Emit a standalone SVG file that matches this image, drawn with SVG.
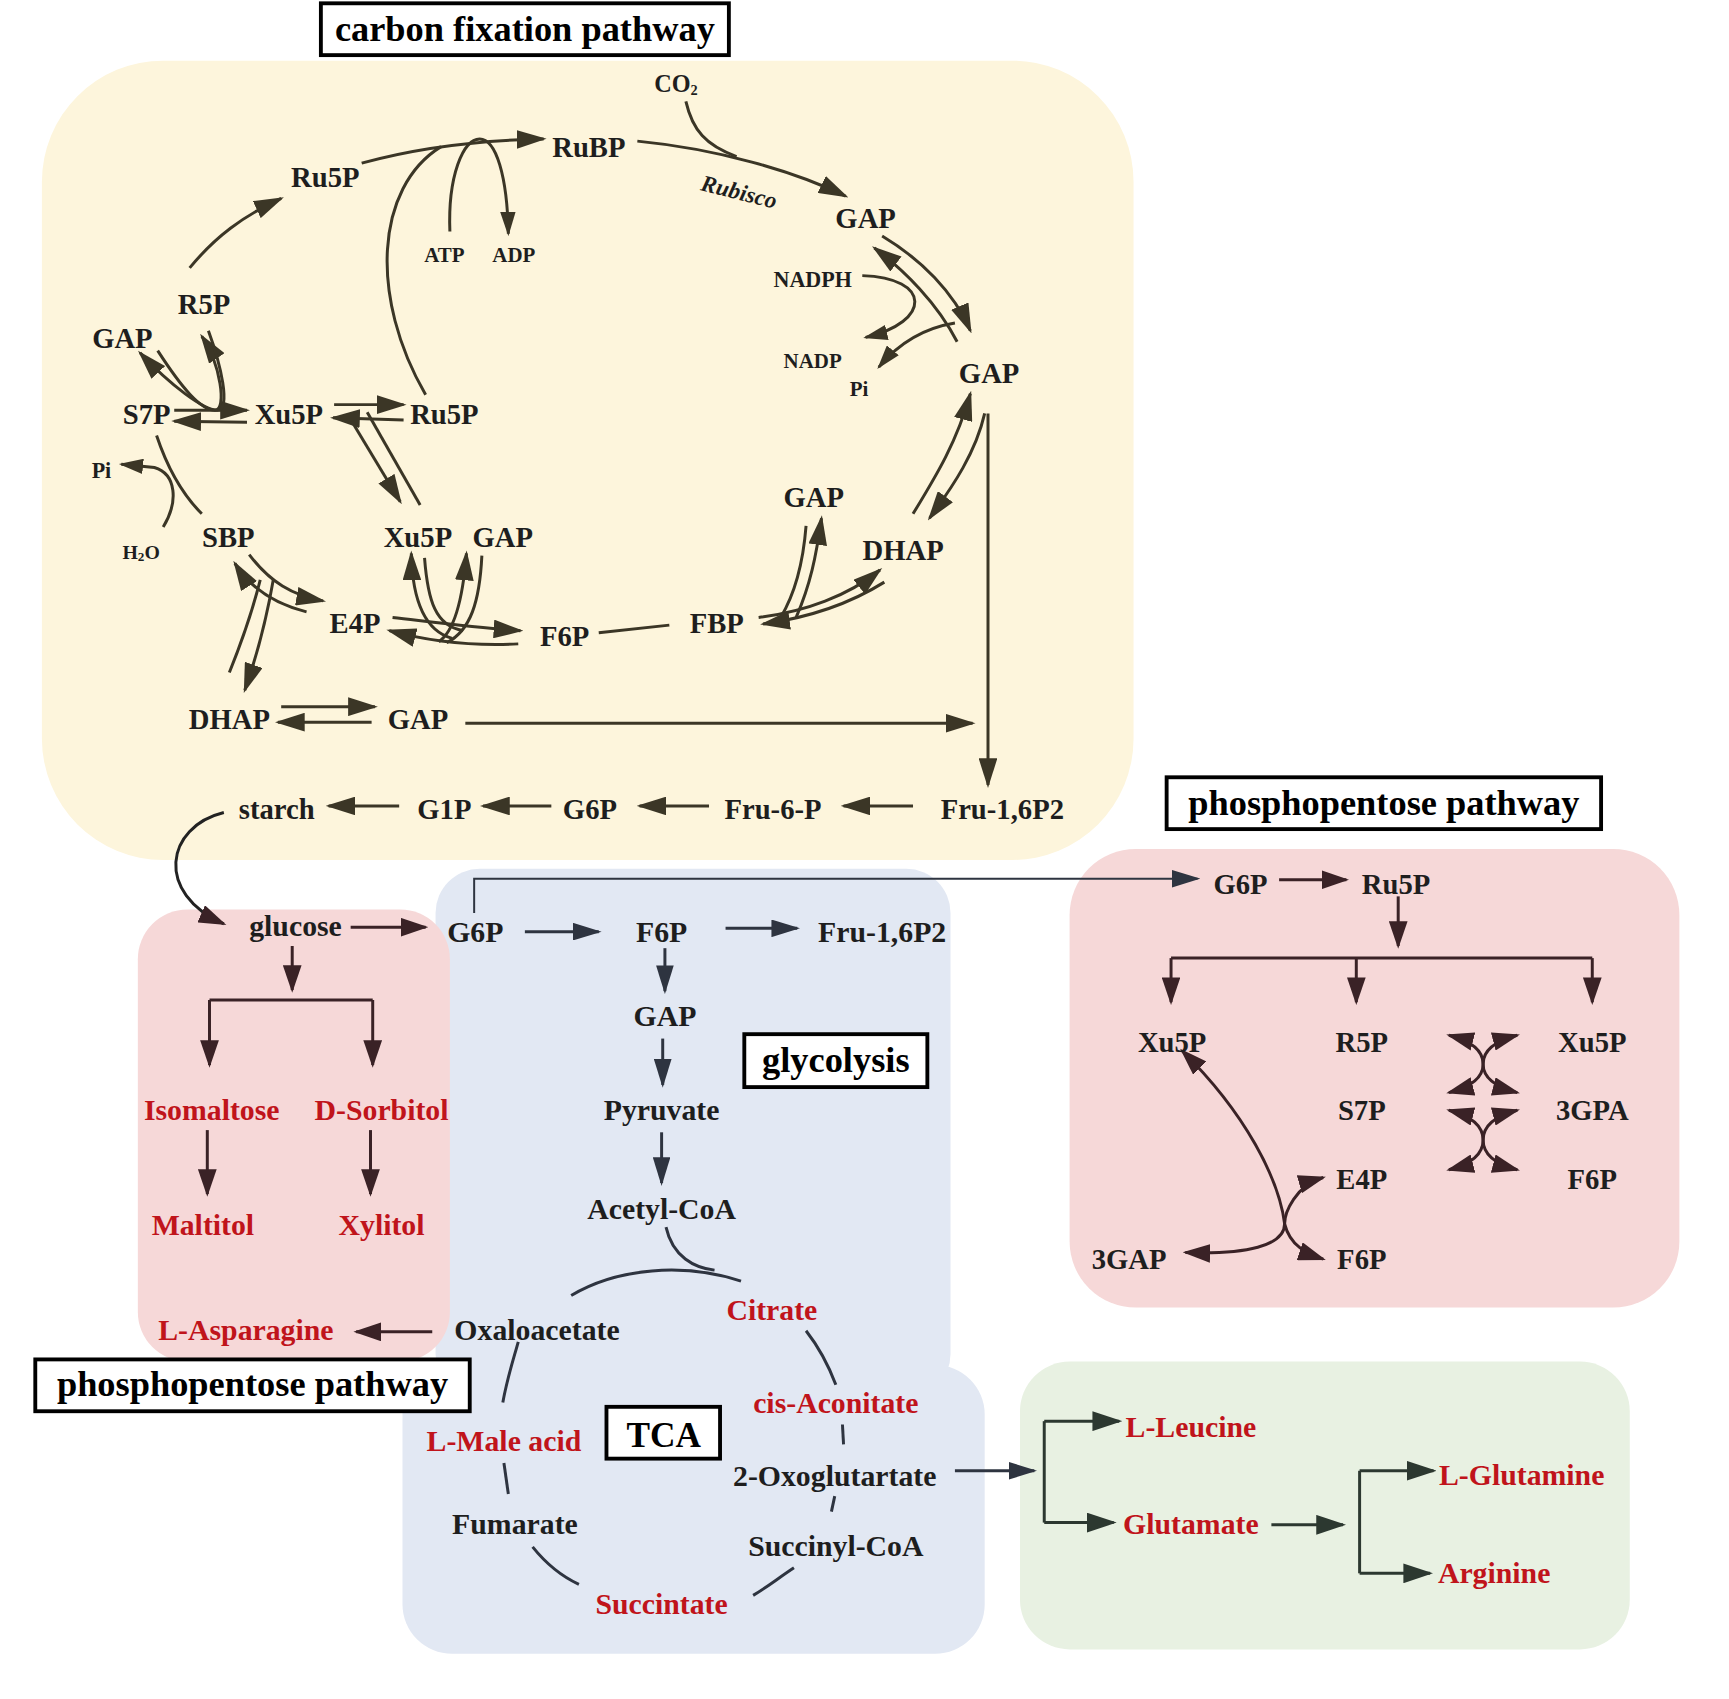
<svg xmlns="http://www.w3.org/2000/svg" width="1729" height="1699" viewBox="0 0 1729 1699">
<defs>
<style>
.t{font-family:"Liberation Serif","Times New Roman",serif;font-weight:bold;font-size:26px;text-anchor:middle;fill:#1e1e1e}
.l{font-size:27px}
.s{font-size:20px}
.r{fill:#c0141b}
.ttl{font-size:33px;fill:#000}
.box{fill:#fff;stroke:#000;stroke-width:3.5}
.c{fill:none;stroke:#3b3626;stroke-width:2.7}
.p{fill:none;stroke:#3a2226;stroke-width:2.7}
.b{fill:none;stroke:#2e3440;stroke-width:2.7}
.g{fill:none;stroke:#2c3830;stroke-width:2.7}
.ce{marker-end:url(#ac)}
.cs{marker-end:url(#acs)}
.pe{marker-end:url(#ap)}
.pb{marker-end:url(#ap);marker-start:url(#ap)}
.be{marker-end:url(#ab)}
.ge{marker-end:url(#ag)}
</style>
<marker id="ac" viewBox="0 0 10 10" preserveAspectRatio="none" refX="9" refY="5" markerWidth="27" markerHeight="17" markerUnits="userSpaceOnUse" orient="auto-start-reverse"><path d="M0,0 L10,5 L0,10 z" fill="#3b3626"/></marker>
<marker id="acs" viewBox="0 0 10 10" preserveAspectRatio="none" refX="9" refY="5" markerWidth="22" markerHeight="14" markerUnits="userSpaceOnUse" orient="auto-start-reverse"><path d="M0,0 L10,5 L0,10 z" fill="#3b3626"/></marker>
<marker id="ap" viewBox="0 0 10 10" preserveAspectRatio="none" refX="9" refY="5" markerWidth="25" markerHeight="17" markerUnits="userSpaceOnUse" orient="auto-start-reverse"><path d="M0,0 L10,5 L0,10 z" fill="#3a2226"/></marker>
<marker id="ab" viewBox="0 0 10 10" preserveAspectRatio="none" refX="9" refY="5" markerWidth="26" markerHeight="16" markerUnits="userSpaceOnUse" orient="auto-start-reverse"><path d="M0,0 L10,5 L0,10 z" fill="#2e3440"/></marker>
<marker id="ag" viewBox="0 0 10 10" preserveAspectRatio="none" refX="9" refY="5" markerWidth="27" markerHeight="18" markerUnits="userSpaceOnUse" orient="auto-start-reverse"><path d="M0,0 L10,5 L0,10 z" fill="#2c3830"/></marker>
</defs>
<rect width="1729" height="1699" fill="#fff"/>
<g transform="scale(1.10268,1.10253)">
<g id="backgrounds">
<rect x="38" y="55" width="990" height="725" rx="110" fill="#fdf5dc"/>
<rect x="395" y="788" width="467" height="480" rx="40" fill="#e2e8f3"/>
<rect x="365" y="1238" width="528" height="262" rx="45" fill="#e2e8f3"/>
<rect x="125" y="825" width="283" height="410" rx="45" fill="#f6d8d8"/>
<rect x="970" y="770" width="553" height="416" rx="60" fill="#f6d8d8"/>
<rect x="925" y="1235" width="553" height="261" rx="45" fill="#e8f1e2"/>
</g>

<g id="connectors">
<!-- carbon fixation -->
<path class="c ce" d="M328 148 Q400 128 493 126"/>
<path class="c" d="M386 358 C335 270 340 170 400 133"/>
<path class="c cs" d="M408 210 C406 160 420 126 435 126 C450 126 460 160 461 212"/>
<path class="c ce" d="M172 243 C195 215 220 196 255 180"/>
<path class="c ce" d="M578 128 C650 135 720 155 767 178"/>
<path class="c" d="M622 92 C628 118 640 132 668 142"/>
<path class="c ce" d="M800 214 C835 235 865 265 880 300"/>
<path class="c ce" d="M868 310 C850 275 820 245 793 225"/>
<path class="c cs" d="M782 250 C845 252 845 292 785 306"/>
<path class="c cs" d="M866 293 C835 298 812 315 797 333"/>
<path class="c ce" d="M828 466 C850 430 868 400 880 357"/>
<path class="c ce" d="M893 375 C885 410 865 440 843 470"/>
<path class="c ce" d="M896 375 L896 712"/>
<path class="c ce" d="M688 560 C730 555 770 540 798 517"/>
<path class="c ce" d="M802 528 C770 548 735 560 692 566"/>
<path class="c ce" d="M722 560 C735 530 740 505 745 470"/>
<path class="c" d="M731 477 C728 515 720 540 708 560"/>
<path class="c ce" d="M303 367 L366 367"/>
<path class="c ce" d="M366 381 L302 379"/>
<path class="c ce" d="M319 382 L363 455"/>
<path class="c" d="M333 374 L381 458"/>
<path class="c ce" d="M158 372 L224 372"/>
<path class="c ce" d="M224 383 L158 382"/>
<path class="c ce" d="M143 318 C165 352 182 372 195 372 C206 372 200 330 183 305"/>
<path class="c ce" d="M189 300 C200 330 210 372 197 372 C185 372 155 350 127 320"/>
<path class="c" d="M142 395 C152 425 165 448 183 466"/>
<path class="c cs" d="M148 478 C162 455 160 430 140 424 L110 421"/>
<path class="c ce" d="M226 503 C245 528 265 540 293 545"/>
<path class="c ce" d="M278 555 C250 548 228 535 213 511"/>
<path class="c ce" d="M248 525 C242 560 234 592 222 626"/>
<path class="c" d="M208 610 C220 580 230 550 236 526"/>
<path class="c ce" d="M356 560 C400 565 440 570 472 572"/>
<path class="c ce" d="M470 584 C430 586 390 582 353 572"/>
<path class="c ce" d="M410 579 C385 572 374 545 373 502"/>
<path class="c" d="M385 506 C388 545 395 568 420 572"/>
<path class="c ce" d="M398 582 C413 572 420 540 423 502"/>
<path class="c" d="M437 504 C435 545 427 572 405 583"/>
<path class="c" d="M543 574 L607 567"/>
<path class="c ce" d="M255 641 L340 641"/>
<path class="c ce" d="M337 655 L252 655"/>
<path class="c ce" d="M422 656 L882 656"/>
<path class="c ce" d="M828 731 L765 731"/>
<path class="c ce" d="M643 731 L580 731"/>
<path class="c ce" d="M500 731 L438 731"/>
<path class="c ce" d="M362 731 L298 731"/>
<path class="p pe" d="M203 737 C150 750 140 810 203 838" style="stroke:#222"/>
<!-- left pink -->
<path class="p pe" d="M318 841 L386 841"/>
<path class="p pe" d="M265 858 L265 898"/>
<path class="p" d="M190 907 L338 907"/>
<path class="p pe" d="M190 907 L190 966"/>
<path class="p pe" d="M338 907 L338 966"/>
<path class="p pe" d="M188 1025 L188 1083"/>
<path class="p pe" d="M336 1025 L336 1083"/>
<path class="p pe" d="M392 1208 L323 1208"/>
<!-- glycolysis / TCA -->
<path class="b be" d="M476 845 L543 845"/>
<path class="b be" d="M658 842 L723 842"/>
<path class="b be" d="M430 828 L430 797 L1086 797" style="stroke-width:1.8"/>
<path class="b be" d="M603 860 L603 899"/>
<path class="b be" d="M601 942 L601 984"/>
<path class="b be" d="M600 1027 L600 1073"/>
<path class="b" d="M604 1113 C610 1140 630 1150 648 1152"/>
<path class="b" d="M518 1175 C560 1150 620 1145 672 1162"/>
<path class="b" d="M731 1207 C745 1225 752 1240 758 1256"/>
<path class="b" d="M764 1292 L765 1310"/>
<path class="b" d="M757 1357 L754 1371"/>
<path class="b" d="M720 1422 C705 1432 695 1440 683 1447"/>
<path class="b" d="M525 1437 C510 1430 495 1418 483 1403"/>
<path class="b" d="M457 1327 L461 1355"/>
<path class="b" d="M456 1272 C460 1250 465 1235 470 1217"/>
<path class="b be" d="M866 1334 L938 1334"/>
<!-- green -->
<path class="g" d="M947 1289 L947 1381"/>
<path class="g ge" d="M947 1289 L1015 1289"/>
<path class="g ge" d="M947 1381 L1010 1381"/>
<path class="g ge" d="M1153 1383 L1218 1383"/>
<path class="g" d="M1233 1334 L1233 1427"/>
<path class="g ge" d="M1233 1334 L1300 1334"/>
<path class="g ge" d="M1233 1427 L1297 1427"/>
<!-- right pink -->
<path class="p pe" d="M1160 798 L1221 798"/>
<path class="p pe" d="M1268 813 L1268 858"/>
<path class="p" d="M1062 869 L1444 869"/>
<path class="p pe" d="M1062 869 L1062 909"/>
<path class="p pe" d="M1230 869 L1230 909"/>
<path class="p pe" d="M1444 869 L1444 909"/>
<path class="p pb" d="M1072 953 C1130 1010 1160 1070 1165 1110 C1170 1130 1185 1137 1200 1142"/>
<path class="p pb" d="M1200 1068 C1175 1075 1165 1100 1165 1110 C1165 1130 1130 1138 1075 1136"/>
<path class="p pb" d="M1314 939 Q1345 947 1345 965 Q1345 983 1376 991"/>
<path class="p pb" d="M1376 939 Q1345 947 1345 965 Q1345 983 1314 991"/>
<path class="p pb" d="M1314 1007 Q1345 1015 1345 1034 Q1345 1053 1376 1061"/>
<path class="p pb" d="M1376 1007 Q1345 1015 1345 1034 Q1345 1053 1314 1061"/>
</g>

<g id="titles">
<g id="title-carbon"><rect class="box" x="291" y="3" width="370" height="47"/><text class="t ttl" x="476" y="37">carbon fixation pathway</text></g>
<g id="title-ppp-right"><rect class="box" x="1058" y="705" width="394" height="47"/><text class="t ttl" x="1255" y="739">phosphopentose pathway</text></g>
<g id="title-glycolysis"><rect class="box" x="675" y="938" width="166" height="48"/><text class="t ttl" x="758" y="972">glycolysis</text></g>
<g id="title-ppp-left"><rect class="box" x="32" y="1233" width="394" height="47"/><text class="t ttl" x="229" y="1266">phosphopentose pathway</text></g>
<g id="title-tca"><rect class="box" x="550" y="1276" width="103" height="47"/><text class="t ttl" x="602" y="1312" style="font-size:32px">TCA</text></g>
</g>

<g id="carbon-nodes">
<g id="n-co2"><text class="t s" x="613" y="83" style="font-size:22px">CO<tspan font-size="13" dy="3">2</tspan></text></g>
<g id="n-rubp"><text class="t" x="534" y="142">RuBP</text></g>
<g id="n-ru5p-top"><text class="t" x="295" y="170">Ru5P</text></g>
<g id="n-rubisco"><text class="t" x="670" y="181" transform="rotate(14 670 175)" style="font-size:21px;font-style:italic">Rubisco</text></g>
<g id="n-gap1"><text class="t" x="785" y="207">GAP</text></g>
<g id="n-nadph"><text class="t s" x="737" y="260">NADPH</text></g>
<g id="n-nadp"><text class="t s" x="737" y="334" style="font-size:19px">NADP</text></g>
<g id="n-pi1"><text class="t s" x="779" y="359" style="font-size:19px">Pi</text></g>
<g id="n-gap2"><text class="t" x="897" y="347">GAP</text></g>
<g id="n-atp"><text class="t s" x="403" y="238" style="font-size:19px">ATP</text></g>
<g id="n-adp"><text class="t s" x="466" y="238" style="font-size:19px">ADP</text></g>
<g id="n-r5p"><text class="t" x="185" y="285">R5P</text></g>
<g id="n-gap3"><text class="t" x="111" y="316">GAP</text></g>
<g id="n-s7p"><text class="t" x="133" y="385">S7P</text></g>
<g id="n-xu5p1"><text class="t" x="262" y="385">Xu5P</text></g>
<g id="n-ru5p-mid"><text class="t" x="403" y="385">Ru5P</text></g>
<g id="n-pi2"><text class="t s" x="92" y="434">Pi</text></g>
<g id="n-h2o"><text class="t s" x="128" y="507" style="font-size:18px">H<tspan font-size="12" dy="2">2</tspan><tspan dy="-2">O</tspan></text></g>
<g id="n-sbp"><text class="t" x="207" y="496">SBP</text></g>
<g id="n-xu5p2"><text class="t" x="379" y="496">Xu5P</text></g>
<g id="n-gap4"><text class="t" x="456" y="496">GAP</text></g>
<g id="n-gap5"><text class="t" x="738" y="460">GAP</text></g>
<g id="n-dhap1"><text class="t" x="819" y="508">DHAP</text></g>
<g id="n-e4p"><text class="t" x="322" y="574">E4P</text></g>
<g id="n-f6p1"><text class="t" x="512" y="586">F6P</text></g>
<g id="n-fbp"><text class="t" x="650" y="574">FBP</text></g>
<g id="n-dhap2"><text class="t" x="208" y="661">DHAP</text></g>
<g id="n-gap6"><text class="t" x="379" y="661">GAP</text></g>
<g id="n-starch"><text class="t" x="251" y="743">starch</text></g>
<g id="n-g1p"><text class="t" x="403" y="743">G1P</text></g>
<g id="n-g6p1"><text class="t" x="535" y="743">G6P</text></g>
<g id="n-fru6p"><text class="t" x="701" y="743">Fru-6-P</text></g>
<g id="n-fru16p2a"><text class="t" x="909" y="743">Fru-1,6P2</text></g>
</g>

<g id="left-nodes">
<g id="n-glucose"><text class="t l" x="268" y="849">glucose</text></g>
<g id="n-isomaltose"><text class="t l r" x="192" y="1016">Isomaltose</text></g>
<g id="n-dsorbitol"><text class="t l r" x="346" y="1016">D-Sorbitol</text></g>
<g id="n-maltitol"><text class="t l r" x="184" y="1120">Maltitol</text></g>
<g id="n-xylitol"><text class="t l r" x="346" y="1120">Xylitol</text></g>
<g id="n-asparagine"><text class="t l r" x="223" y="1215">L-Asparagine</text></g>
</g>

<g id="glycolysis-nodes">
<g id="n-g6p2"><text class="t l" x="431" y="854">G6P</text></g>
<g id="n-f6p2"><text class="t l" x="600" y="854">F6P</text></g>
<g id="n-fru16p2b"><text class="t l" x="800" y="854">Fru-1,6P2</text></g>
<g id="n-gap7"><text class="t l" x="603" y="931">GAP</text></g>
<g id="n-pyruvate"><text class="t l" x="600" y="1016">Pyruvate</text></g>
<g id="n-acetylcoa"><text class="t l" x="600" y="1106">Acetyl-CoA</text></g>
<g id="n-oxaloacetate"><text class="t l" x="487" y="1215">Oxaloacetate</text></g>
<g id="n-citrate"><text class="t l r" x="700" y="1197">Citrate</text></g>
<g id="n-cisaconitate"><text class="t l r" x="758" y="1282">cis-Aconitate</text></g>
<g id="n-lmale"><text class="t l r" x="457" y="1316">L-Male acid</text></g>
<g id="n-oxoglutarate"><text class="t l" x="757" y="1348">2-Oxoglutartate</text></g>
<g id="n-fumarate"><text class="t l" x="467" y="1391">Fumarate</text></g>
<g id="n-succinylcoa"><text class="t l" x="758" y="1411">Succinyl-CoA</text></g>
<g id="n-succintate"><text class="t l r" x="600" y="1464">Succintate</text></g>
</g>

<g id="green-nodes">
<g id="n-leucine"><text class="t l r" x="1080" y="1303">L-Leucine</text></g>
<g id="n-glutamate"><text class="t l r" x="1080" y="1391">Glutamate</text></g>
<g id="n-glutamine"><text class="t l r" x="1380" y="1347">L-Glutamine</text></g>
<g id="n-arginine"><text class="t l r" x="1355" y="1436">Arginine</text></g>
</g>

<g id="ppp-nodes">
<g id="n-g6p3"><text class="t" x="1125" y="811">G6P</text></g>
<g id="n-ru5p3"><text class="t" x="1266" y="811">Ru5P</text></g>
<g id="n-xu5p3"><text class="t" x="1063" y="954">Xu5P</text></g>
<g id="n-r5p2"><text class="t" x="1235" y="954">R5P</text></g>
<g id="n-xu5p4"><text class="t" x="1444" y="954">Xu5P</text></g>
<g id="n-s7p2"><text class="t" x="1235" y="1016">S7P</text></g>
<g id="n-3gpa"><text class="t" x="1444" y="1016">3GPA</text></g>
<g id="n-e4p2"><text class="t" x="1235" y="1078">E4P</text></g>
<g id="n-f6p3"><text class="t" x="1444" y="1078">F6P</text></g>
<g id="n-3gap"><text class="t" x="1024" y="1151">3GAP</text></g>
<g id="n-f6p4"><text class="t" x="1235" y="1151">F6P</text></g>
</g>
</g>
</svg>
